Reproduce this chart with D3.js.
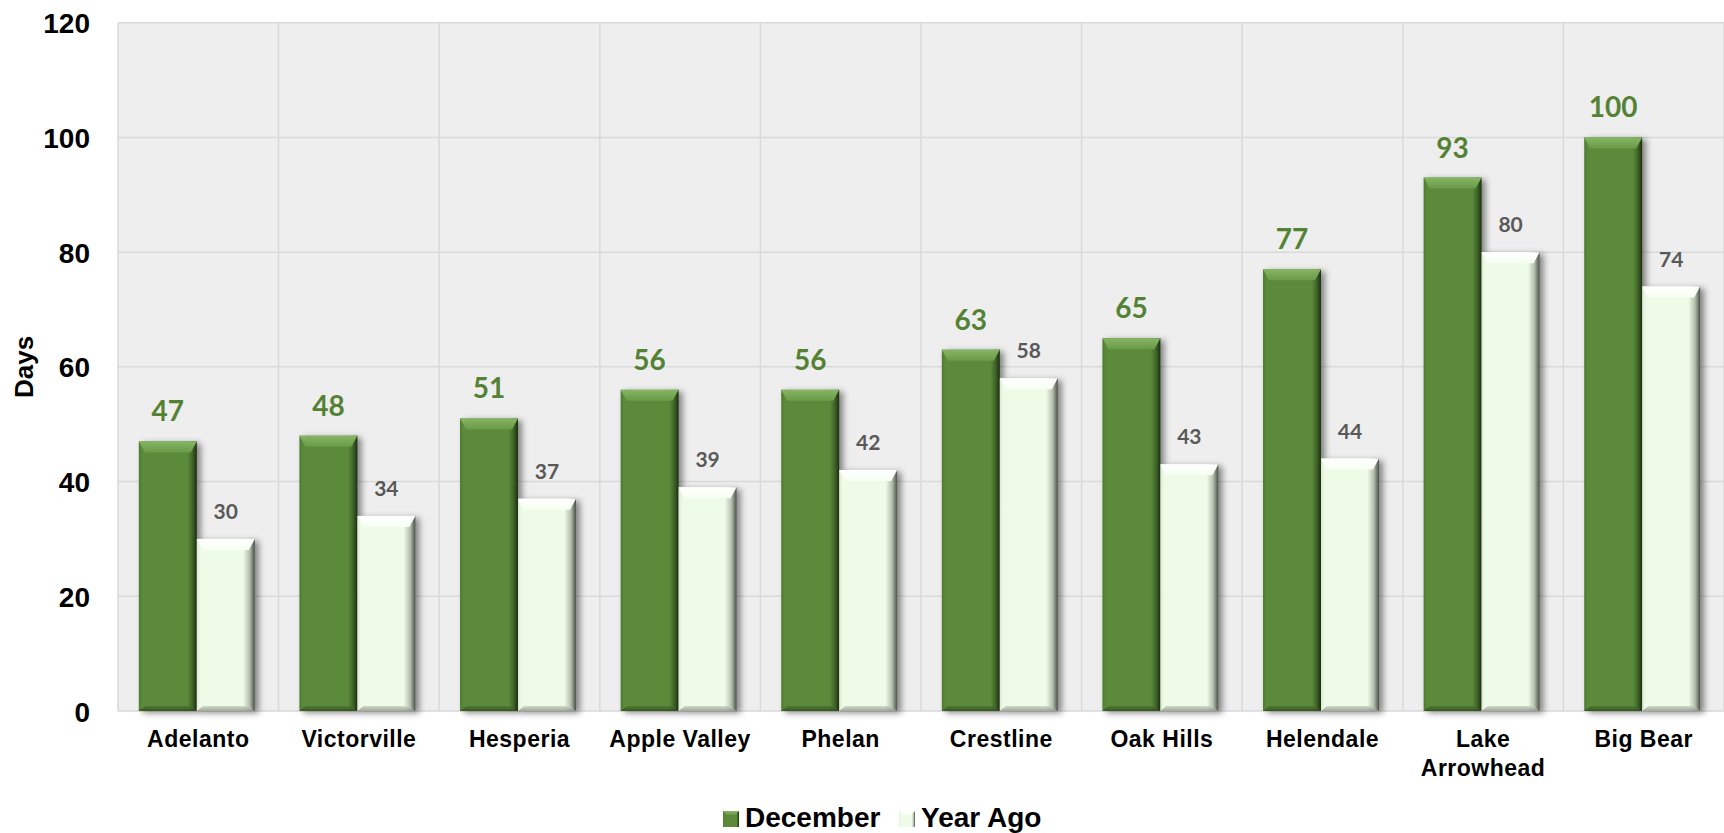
<!DOCTYPE html>
<html>
<head>
<meta charset="utf-8">
<script src="https://cdn.jsdelivr.net/npm/d3@7"></script>
<style>
  html, body { margin: 0; padding: 0; background: #ffffff; }
  svg { display: block; }
</style>
</head>
<body>
<svg id="chart" width="1724" height="833"></svg>
<script>
const categories = ["Adelanto", "Victorville", "Hesperia", "Apple Valley", "Phelan", "Crestline", "Oak Hills", "Helendale", "Lake Arrowhead", "Big Bear"];
const seriesNames = ["December", "Year Ago"];
const december = [47, 48, 51, 56, 56, 63, 65, 77, 93, 100];
const yearAgo = [30, 34, 37, 39, 42, 58, 43, 44, 80, 74];
const yTicks = [0, 20, 40, 60, 80, 100, 120];
const yTitle = "Days";

const svg = d3.select("#chart");
const W = 1724, H = 833;
const m = { left: 118, right: 0, top: 22.7, bottom: 122 };
const pw = W - m.left - m.right;
const ph = H - m.top - m.bottom;

const data = categories.map((c, i) => ({ cat: c, values: [december[i], yearAgo[i]] }));

const x0 = d3.scaleBand().domain(categories).range([m.left, m.left + pw]).paddingInner(0).paddingOuter(0);
const bw = x0.bandwidth();
const x1 = d3.scaleBand().domain(seriesNames).range([-1.5, bw - 1.5]).paddingInner(0).paddingOuter(0.385);
const y = d3.scaleLinear().domain([0, 120]).range([m.top + ph, m.top]);

const defs = svg.append("defs");
function hgrad(id, stops) {
  const g = defs.append("linearGradient").attr("id", id).attr("x1", "0").attr("x2", "1").attr("y1", "0").attr("y2", "0");
  stops.forEach(s => g.append("stop").attr("offset", s[0]).attr("stop-color", s[1]));
}
function vgrad(id, stops) {
  const g = defs.append("linearGradient").attr("id", id).attr("x1", "0").attr("x2", "0").attr("y1", "0").attr("y2", "1");
  stops.forEach(s => g.append("stop").attr("offset", s[0]).attr("stop-color", s[1]));
}
hgrad("gDec", [["0", "#4c7b2e"], ["0.06", "#5b8a3a"], ["0.84", "#5b8a3a"], ["0.93", "#3d6127"], ["1", "#1c2e10"]]);
vgrad("gDecTop", [["0", "#86b664"], ["1", "#6a9a48"]]);
vgrad("gDecBot", [["0", "#4a7530"], ["1", "#2f4a1e"]]);
hgrad("gYA", [["0", "#dde8d6"], ["0.06", "#eefbe6"], ["0.80", "#eefbe6"], ["0.91", "#b5bfaf"], ["1", "#4a5047"]]);
vgrad("gYATop", [["0", "#ffffff"], ["1", "#f6fff2"]]);
vgrad("gYABot", [["0", "#c8d2c2"], ["1", "#8c9488"]]);

const filt = defs.append("filter").attr("id", "shadow").attr("x", "-20%").attr("y", "-10%").attr("width", "160%").attr("height", "130%");
filt.append("feDropShadow").attr("dx", 4).attr("dy", 2).attr("stdDeviation", 3).attr("flood-color", "#000").attr("flood-opacity", 0.45);

// plot background
svg.append("rect").attr("x", m.left).attr("y", m.top).attr("width", pw).attr("height", ph).attr("fill", "#eeeeee");

// horizontal gridlines
svg.append("g").selectAll("line").data(yTicks).join("line")
  .attr("x1", m.left).attr("x2", m.left + pw)
  .attr("y1", d => y(d)).attr("y2", d => y(d))
  .attr("stroke", "#d9d9d9").attr("stroke-width", 1.5);

// vertical gridlines at category boundaries
const bounds = categories.map(c => x0(c)).concat([m.left + pw]);
svg.append("g").selectAll("line").data(bounds).join("line")
  .attr("x1", d => d).attr("x2", d => d)
  .attr("y1", m.top).attr("y2", m.top + ph)
  .attr("stroke", "#d9d9d9").attr("stroke-width", 1.5);

// y axis labels
const yAxis = d3.axisLeft(y).tickValues(yTicks).tickSize(0).tickPadding(0);
const gy = svg.append("g").attr("transform", `translate(${90},0)`).call(yAxis);
gy.select(".domain").remove();
gy.selectAll("text").attr("font-family", "Liberation Sans, Arial, sans-serif")
  .attr("font-weight", "bold").attr("font-size", 28).attr("fill", "#000").attr("dy", "0.36em");

// y title
svg.append("text").attr("transform", `translate(${33},${(m.top + m.top + ph) / 2}) rotate(-90)`)
  .attr("text-anchor", "middle")
  .attr("font-family", "Liberation Sans, Arial, sans-serif").attr("font-weight", "bold")
  .attr("font-size", 26).attr("fill", "#000").text(yTitle);

// bars
const fills = [["gDec", "gDecTop", "gDecBot"], ["gYA", "gYATop", "gYABot"]];
const groups = svg.append("g").selectAll("g").data(data).join("g")
  .attr("transform", d => `translate(${x0(d.cat)},0)`);

const bars = groups.selectAll("g.bar").data(d => d.values.map((v, i) => ({ v, i, s: seriesNames[i] }))).join("g").attr("class", "bar");
bars.each(function(d) {
  const g = d3.select(this);
  const bx = x1(d.s), w = x1.bandwidth();
  const top = y(d.v), bot = y(0);
  const bev = 11, side = 6, bb = 5;
  const f = fills[d.i];
  g.append("rect").attr("x", bx).attr("y", top).attr("width", w).attr("height", bot - top)
    .attr("fill", `url(#${f[0]})`).attr("filter", "url(#shadow)");
  g.append("polygon")
    .attr("points", [[bx, top], [bx + w, top], [bx + w - side, top + bev], [bx + side, top + bev]].map(p => p.join(",")).join(" "))
    .attr("fill", `url(#${f[1]})`);
  g.append("polygon")
    .attr("points", [[bx + side, bot - bb], [bx + w - side, bot - bb], [bx + w, bot], [bx, bot]].map(p => p.join(",")).join(" "))
    .attr("fill", `url(#${f[2]})`).attr("opacity", 0.8);
});

// data labels
groups.selectAll("text.lbl").data(d => d.values.map((v, i) => ({ v, i, s: seriesNames[i] }))).join("text")
  .attr("class", "lbl")
  .attr("x", d => x1(d.s) + x1.bandwidth() / 2)
  .attr("y", d => y(d.v) - 20)
  .attr("text-anchor", "middle")
  .attr("font-family", "Lato, Carlito, sans-serif").attr("font-weight", "bold")
  .attr("font-size", d => d.i === 0 ? 28 : 21)
  .attr("fill", d => d.i === 0 ? "#548235" : "#595959")
  .text(d => d.v);

// x category labels with wrapping
const xl = svg.append("g");
categories.forEach(c => {
  const t = xl.append("text").attr("x", x0(c) + bw / 2).attr("y", 747)
    .attr("text-anchor", "middle")
    .attr("font-family", "Liberation Sans, Arial, sans-serif").attr("font-weight", "bold")
    .attr("font-size", 23).attr("letter-spacing", 0.5).attr("fill", "#000");
  const words = c.split(" ");
  let line = [], lines = [];
  const probe = t.append("tspan");
  words.forEach(wd => {
    const trial = line.concat([wd]).join(" ");
    probe.text(trial);
    if (probe.node().getComputedTextLength() > bw - 8 && line.length) {
      lines.push(line.join(" "));
      line = [wd];
    } else line.push(wd);
  });
  lines.push(line.join(" "));
  probe.remove();
  lines.forEach((ln, k) => t.append("tspan").attr("x", x0(c) + bw / 2).attr("dy", k === 0 ? 0 : 29).text(ln));
});

// legend
const lg = svg.append("g").attr("transform", "translate(723,0)");
const legendX = [0, 176];
seriesNames.forEach((s, i) => {
  const g = lg.append("g").attr("transform", `translate(${legendX[i]},0)`);
  g.append("rect").attr("x", 0).attr("y", 811).attr("width", 16).attr("height", 16)
    .attr("fill", `url(#${fills[i][0]})`);
  g.append("polygon").attr("points", "0,811 16,811 12,815 4,815").attr("fill", `url(#${fills[i][1]})`);
  g.append("text").attr("x", 22).attr("y", 827)
    .attr("font-family", "Liberation Sans, Arial, sans-serif").attr("font-weight", "bold")
    .attr("font-size", 28).attr("fill", "#000").text(s);
});
</script>
</body>
</html>
